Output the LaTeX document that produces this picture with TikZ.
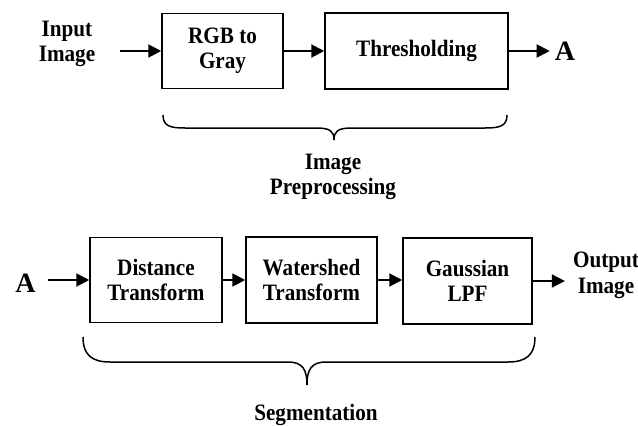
\documentclass[tikz,border=0pt]{standalone}
\usepackage{fontspec}
\setmainfont[FakeStretch=0.9]{Liberation Serif}
\newfontfamily\afont{Liberation Serif}
\usetikzlibrary{arrows.meta}
\begin{document}
\begin{tikzpicture}[x=1pt,y=-1pt,
  box/.style={draw, line width=1.5pt, inner sep=0pt, align=center, font=\fontsize{23.5}{25.5}\selectfont\bfseries},
  lbl/.style={align=center, inner sep=0pt, font=\fontsize{23.5}{25.5}\selectfont\bfseries},
  bigA/.style={inner sep=0pt, font=\afont\fontsize{28}{30}\selectfont\bfseries},
  arr/.style={line width=2pt, -{Triangle[length=13pt,width=13pt]}},
  brc/.style={line width=1.5pt}]
\useasboundingbox (0,0) rectangle (638,426);
% top row
\node[lbl] (in) at (67,44) {Input\\Image};
\coordinate (instart) at (120,51);
\node[box, minimum width=121pt, minimum height=75pt] (rgb) at (222.5,51) {RGB to\\Gray};
\node[box, minimum width=183pt, minimum height=76pt] (thr) at (416.5,51) {Thresholding};
\node[bigA] (Atop) at (565,51) {A};
\draw[arr] (instart) -- (instart -| rgb.west);
\draw[arr] (rgb.east) -- (thr.west |- rgb.east);
\draw[arr, shorten >=5pt] (thr.east) -- (Atop.west);
% top brace
\draw[brc] (163,115) .. controls (163,126) and (170,128) .. (185,128) -- (316,128)
  .. controls (330,128) and (334,131) .. (334,140)
  .. controls (334,131) and (338,128) .. (352,128) -- (485,128)
  .. controls (500,128) and (507,126) .. (507,115);
\node[lbl] (pre) at (333,177) {Image\\Preprocessing};
% bottom row
\node[bigA] (Abot) at (25.5,283) {A};
\node[box, minimum width=132pt, minimum height=85pt] (dist) at (156,280) {Distance\\Transform};
\node[box, minimum width=131pt, minimum height=86pt] (water) at (311.5,280) {Watershed\\Transform};
\node[box, minimum width=129pt, minimum height=86pt] (gauss) at (467.5,281) {Gaussian\\LPF};
\node[lbl] (out) at (606,275.5) {Output\\Image};
\draw[arr, shorten <=12pt] (Abot.east |- dist.west) -- (dist.west);
\draw[arr] (dist.east) -- (water.west |- dist.east);
\draw[arr] (water.east) -- (gauss.west |- water.east);
\draw[arr, shorten >=8pt] (gauss.east) -- (out.west |- gauss.east);
% bottom brace
\draw[brc] (83,337) .. controls (83,355) and (92,362) .. (110,362) -- (288,362)
  .. controls (303,362) and (307,370) .. (307,385)
  .. controls (307,370) and (311,362) .. (326,362) -- (508,362)
  .. controls (526,362) and (535,355) .. (535,337);
\node[lbl] (seg) at (316,415) {Segmentation};
\end{tikzpicture}
\end{document}
